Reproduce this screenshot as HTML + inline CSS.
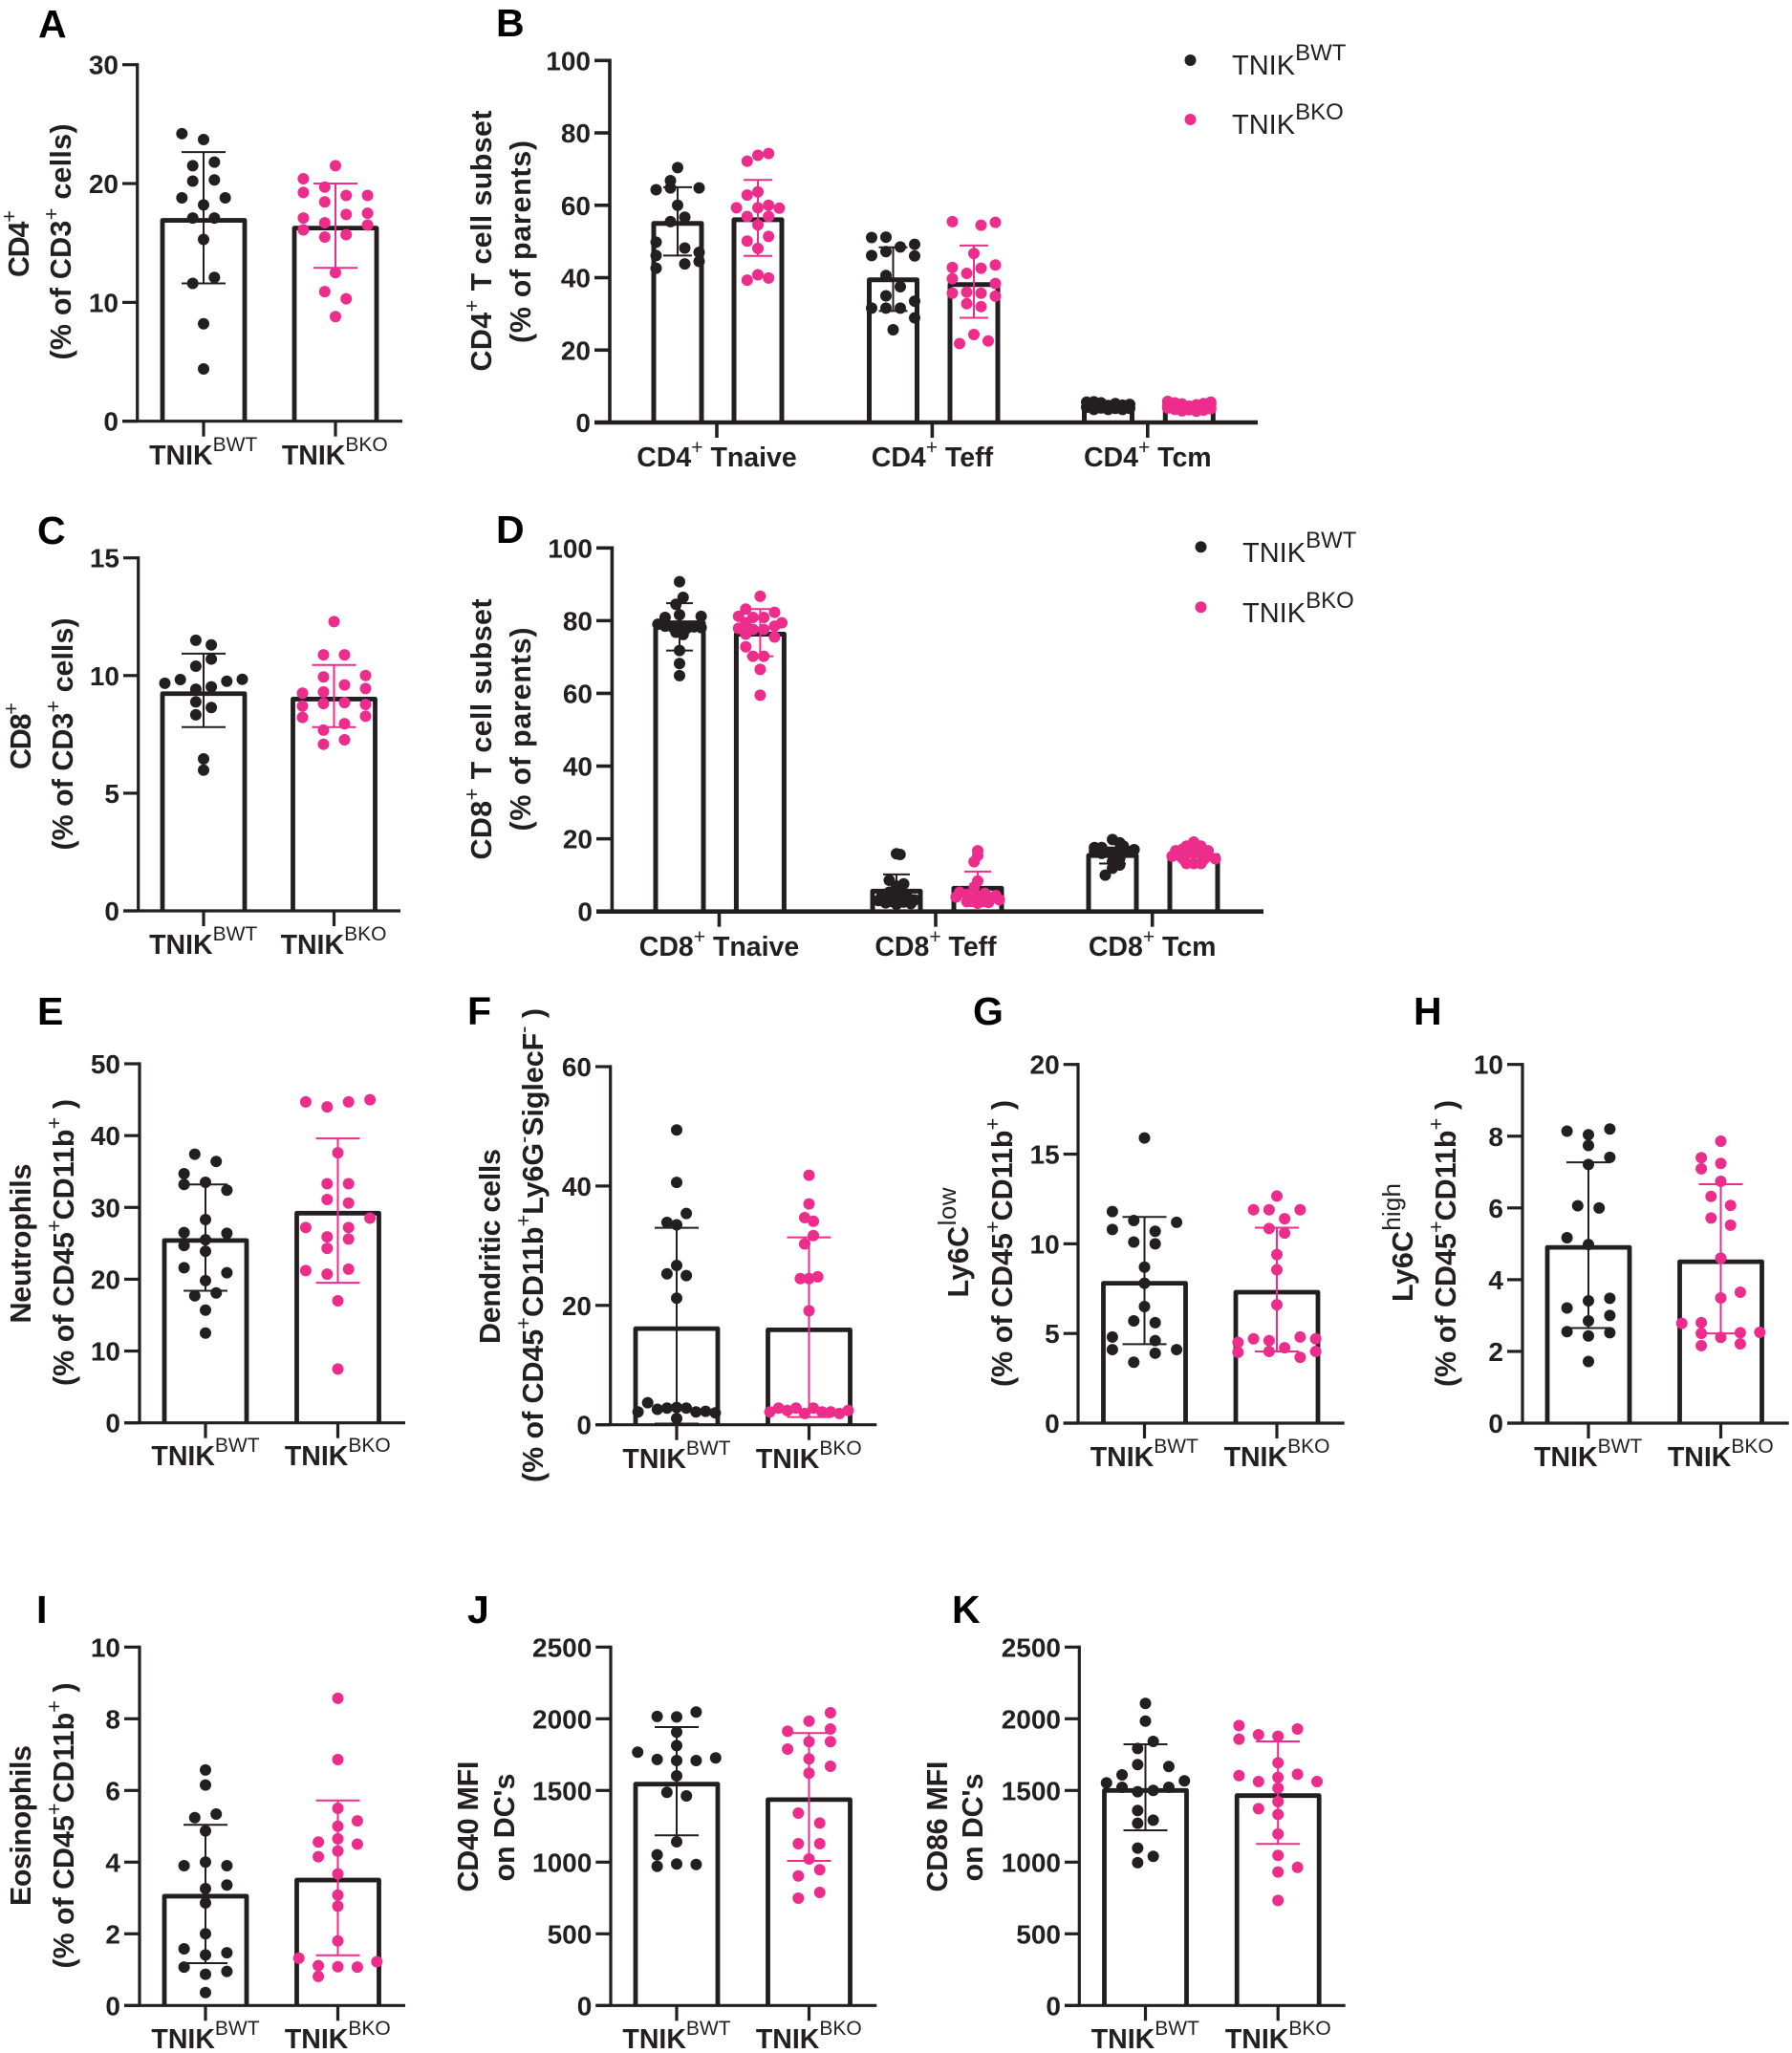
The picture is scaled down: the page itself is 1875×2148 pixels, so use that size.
<!DOCTYPE html>
<html lang="en">
<head>
<meta charset="utf-8">
<title>TNIK immune cell subset panels</title>
<style>
  html, body { margin: 0; padding: 0; background: #fff; }
  svg { display: block; }
  text { font-family: "Liberation Sans", Arial, sans-serif; fill: #231f20; }
  .letter { font-size: 41px; font-weight: 700; fill: #000; }
  .ytitle { font-size: 30.5px; font-weight: 700; text-anchor: middle; }
  .cat { font-size: 28.5px; font-weight: 700; text-anchor: middle; }
  .ytitle .sup { font-size: 22px; font-weight: 400; }
  .sup { font-size: 21px; font-weight: 400; }
  .legend { font-size: 29px; font-weight: 400; }
  .legend-sup { font-size: 24px; font-weight: 400; }
  .tick { font-size: 28px; font-weight: 700; text-anchor: end; }
</style>
</head>
<body>
<svg id="fig" xmlns="http://www.w3.org/2000/svg" width="1875" height="2148" viewBox="0 0 1875 2148">
  <rect width="1875" height="2148" fill="#fff"/>

  <!-- Panel letters -->
  <text class="letter" x="40" y="39">A</text>
  <text class="letter" x="519" y="38">B</text>
  <text class="letter" x="39" y="569">C</text>
  <text class="letter" x="519" y="568">D</text>
  <text class="letter" x="39" y="1072">E</text>
  <text class="letter" x="489" y="1072">F</text>
  <text class="letter" x="1018" y="1072">G</text>
  <text class="letter" x="1479" y="1072">H</text>
  <text class="letter" x="38" y="1698">I</text>
  <text class="letter" x="489" y="1698">J</text>
  <text class="letter" x="996" y="1698">K</text>

  <!-- Y axis titles -->
  <text class="ytitle" transform="translate(30,255) rotate(-90)" textLength="70">CD4<tspan class="sup" dy="-13">+</tspan></text>
  <text class="ytitle" transform="translate(74,253) rotate(-90)" textLength="247">(% of CD3<tspan class="sup" dy="-13">+</tspan><tspan dy="13"> cells)</tspan></text>

  <text class="ytitle" transform="translate(514,252) rotate(-90)" textLength="273">CD4<tspan class="sup" dy="-13">+</tspan><tspan dy="13"> T cell subset</tspan></text>
  <text class="ytitle" transform="translate(555,253) rotate(-90)" textLength="212">(% of parents)</text>

  <text class="ytitle" transform="translate(32,770) rotate(-90)" textLength="70">CD8<tspan class="sup" dy="-13">+</tspan></text>
  <text class="ytitle" transform="translate(76,768) rotate(-90)" textLength="243">(% of CD3<tspan class="sup" dy="-13">+</tspan><tspan dy="13"> cells)</tspan></text>

  <text class="ytitle" transform="translate(514,763) rotate(-90)" textLength="273">CD8<tspan class="sup" dy="-13">+</tspan><tspan dy="13"> T cell subset</tspan></text>
  <text class="ytitle" transform="translate(555,763) rotate(-90)" textLength="213">(% of parents)</text>

  <text class="ytitle" transform="translate(32,1301) rotate(-90)" textLength="167">Neutrophils</text>
  <text class="ytitle" transform="translate(77,1300) rotate(-90)" textLength="300">(% of CD45<tspan class="sup" dy="-13">+</tspan><tspan dy="13">CD11b</tspan><tspan class="sup" dy="-13">+</tspan><tspan dy="13"> )</tspan></text>

  <text class="ytitle" transform="translate(523,1304) rotate(-90)" textLength="204">Dendritic cells</text>
  <text class="ytitle" transform="translate(568,1303) rotate(-90)" textLength="496">(% of CD45<tspan class="sup" dy="-13">+</tspan><tspan dy="13">CD11b</tspan><tspan class="sup" dy="-13">+</tspan><tspan dy="13">Ly6G</tspan><tspan class="sup" dy="-13">-</tspan><tspan dy="13">SiglecF</tspan><tspan class="sup" dy="-13">-</tspan><tspan dy="13"> )</tspan></text>

  <text class="ytitle" transform="translate(1013,1300) rotate(-90)" textLength="115">Ly6C<tspan class="sup" style="font-size:26px" dy="-13">low</tspan></text>
  <text class="ytitle" transform="translate(1059,1301) rotate(-90)" textLength="300">(% of CD45<tspan class="sup" dy="-13">+</tspan><tspan dy="13">CD11b</tspan><tspan class="sup" dy="-13">+</tspan><tspan dy="13"> )</tspan></text>

  <text class="ytitle" transform="translate(1478,1300) rotate(-90)" textLength="124">Ly6C<tspan class="sup" style="font-size:26px" dy="-13">high</tspan></text>
  <text class="ytitle" transform="translate(1523,1301) rotate(-90)" textLength="300">(% of CD45<tspan class="sup" dy="-13">+</tspan><tspan dy="13">CD11b</tspan><tspan class="sup" dy="-13">+</tspan><tspan dy="13"> )</tspan></text>

  <text class="ytitle" transform="translate(32,1910) rotate(-90)" textLength="168">Eosinophils</text>
  <text class="ytitle" transform="translate(77,1910) rotate(-90)" textLength="299">(% of CD45<tspan class="sup" dy="-13">+</tspan><tspan dy="13">CD11b</tspan><tspan class="sup" dy="-13">+</tspan><tspan dy="13"> )</tspan></text>

  <text class="ytitle" transform="translate(500,1911) rotate(-90)" textLength="137">CD40 MFI</text>
  <text class="ytitle" transform="translate(538,1912) rotate(-90)" textLength="113">on DC's</text>

  <text class="ytitle" transform="translate(991,1911) rotate(-90)" textLength="137">CD86 MFI</text>
  <text class="ytitle" transform="translate(1028,1912) rotate(-90)" textLength="113">on DC's</text>

  <!-- Category labels -->
  <text class="cat" x="212.7" y="486">TNIK<tspan class="sup" dy="-14">BWT</tspan></text>
  <text class="cat" x="350.3" y="486">TNIK<tspan class="sup" dy="-14">BKO</tspan></text>
  <text class="cat" x="212.7" y="998">TNIK<tspan class="sup" dy="-14">BWT</tspan></text>
  <text class="cat" x="349" y="998">TNIK<tspan class="sup" dy="-14">BKO</tspan></text>
  <text class="cat" x="215" y="1533">TNIK<tspan class="sup" dy="-14">BWT</tspan></text>
  <text class="cat" x="353.3" y="1533">TNIK<tspan class="sup" dy="-14">BKO</tspan></text>
  <text class="cat" x="708" y="1536">TNIK<tspan class="sup" dy="-14">BWT</tspan></text>
  <text class="cat" x="846.3" y="1536">TNIK<tspan class="sup" dy="-14">BKO</tspan></text>
  <text class="cat" x="1197.3" y="1534">TNIK<tspan class="sup" dy="-14">BWT</tspan></text>
  <text class="cat" x="1336" y="1534">TNIK<tspan class="sup" dy="-14">BKO</tspan></text>
  <text class="cat" x="1661.7" y="1534">TNIK<tspan class="sup" dy="-14">BWT</tspan></text>
  <text class="cat" x="1800.3" y="1534">TNIK<tspan class="sup" dy="-14">BKO</tspan></text>
  <text class="cat" x="215" y="2143">TNIK<tspan class="sup" dy="-14">BWT</tspan></text>
  <text class="cat" x="353.3" y="2143">TNIK<tspan class="sup" dy="-14">BKO</tspan></text>
  <text class="cat" x="708" y="2143">TNIK<tspan class="sup" dy="-14">BWT</tspan></text>
  <text class="cat" x="846.3" y="2143">TNIK<tspan class="sup" dy="-14">BKO</tspan></text>
  <text class="cat" x="1198.3" y="2143">TNIK<tspan class="sup" dy="-14">BWT</tspan></text>
  <text class="cat" x="1337.3" y="2143">TNIK<tspan class="sup" dy="-14">BKO</tspan></text>

  <text class="cat" x="750" y="488">CD4<tspan class="sup" dy="-13">+</tspan><tspan dy="13"> Tnaive</tspan></text>
  <text class="cat" x="975.4" y="488">CD4<tspan class="sup" dy="-13">+</tspan><tspan dy="13"> Teff</tspan></text>
  <text class="cat" x="1200.8" y="488">CD4<tspan class="sup" dy="-13">+</tspan><tspan dy="13"> Tcm</tspan></text>
  <text class="cat" x="752.5" y="1000">CD8<tspan class="sup" dy="-13">+</tspan><tspan dy="13"> Tnaive</tspan></text>
  <text class="cat" x="979" y="1000">CD8<tspan class="sup" dy="-13">+</tspan><tspan dy="13"> Teff</tspan></text>
  <text class="cat" x="1205.7" y="1000">CD8<tspan class="sup" dy="-13">+</tspan><tspan dy="13"> Tcm</tspan></text>

  <!-- Legends -->
  <circle cx="1245.5" cy="63" r="6" fill="#231f20"/>
  <text class="legend" x="1289" y="78">TNIK<tspan class="legend-sup" dy="-15">BWT</tspan></text>
  <circle cx="1245.5" cy="125" r="6" fill="#ec2d8c"/>
  <text class="legend" x="1289" y="140">TNIK<tspan class="legend-sup" dy="-15">BKO</tspan></text>
  <circle cx="1256.5" cy="572.3" r="6" fill="#231f20"/>
  <text class="legend" x="1300" y="588">TNIK<tspan class="legend-sup" dy="-15">BWT</tspan></text>
  <circle cx="1256.5" cy="635.3" r="6" fill="#ec2d8c"/>
  <text class="legend" x="1300" y="651">TNIK<tspan class="legend-sup" dy="-15">BKO</tspan></text>
</svg>

<script>
/* ---------- Panel A ---------- */
const panelA_ticks = [0, 10, 20, 30];
const panelA_wtValues = [24.2, 23.7, 21.5, 21.8, 20.2, 20.3, 18.8, 18.8, 18.2, 17.1, 17.1, 15.3, 12.1, 11.6, 8.2, 4.4];
const panelA_wtSlots = [-2, 0, -1, 1, -1, 1, -2, 2, 0, -1, 1, 0, 1, -1, 0, 0];
const panelA_koValues = [21.5, 20.4, 19.25, 19.7, 19.0, 19.0, 18.45, 17.4, 17.5, 17.1, 16.7, 16.5, 16.1, 15.5, 15.7, 12.5, 10.9, 10.3, 8.8];
const panelA_koSlots = [0, -3, -3, -1, 1, 3, -1, 1, 3, -3, -1, 3, -3, -1, 1, 0, -1, 1, 0];
const panelA_means = [16.9, 16.25];
const panelA_errHigh = [22.65, 20.0];
const panelA_errLow = [11.6, 12.9];

/* ---------- Panel B ---------- */
const panelB_ticks = [0, 20, 40, 60, 80, 100];
const panelB_naiveWtValues = [70.4, 66.8, 64.3, 64.8, 64.8, 60.0, 56.7, 55.5, 49.8, 48.2, 47.0, 46.1, 44.5, 43.8, 42.6];
const panelB_naiveWtSlots = [0, -1, -3, -1, 3, 0, 1, -1, -3, 1, 3, -3, 3, 1, -3];
const panelB_naiveKoValues = [74.3, 73.8, 72.2, 63.7, 62.8, 59.3, 59.3, 60.0, 59.2, 56.9, 56.9, 54.6, 51.4, 50.1, 48.1, 40.8, 39.9, 39.3];
const panelB_naiveKoSlots = [1, 0, -1, 0, -1, -2, 0, 1, 2, -1, 1, 0, 1, -1, 0, 0, 1, -1];
const panelB_effWtValues = [51.1, 51.2, 49.2, 48.5, 47.2, 46.1, 46.0, 40.6, 37.5, 35.0, 33.5, 31.6, 31.6, 31.6, 28.9, 25.6];
const panelB_effWtSlots = [-3, -1, 3, 1, -1, -3, 3, -1, 1, -1, 3, -3, -1, 1, 3, 0];
const panelB_effKoValues = [55.5, 55.3, 54.5, 46.7, 43.5, 42.8, 42.6, 41.2, 39.7, 38.4, 35.7, 36.0, 35.7, 34.9, 32.8, 32.0, 24.3, 22.5, 21.8];
const panelB_effKoSlots = [-3, 3, 1, 0, 3, -3, 1, -1, -3, 3, -3, -1, 1, 3, -1, 1, 0, 2, -2];
const panelB_cmWtValues = [5.6, 5.7, 4.2, 3.6, 5.4, 4.0, 4.7, 3.6, 5.2, 3.9, 4.8, 3.6, 5.0, 3.9, 4.6, 3.8];
const panelB_cmWtSlots = [-3, -2, -3, -2, -1, -1, 0, 0, 1, 1, 2, 2, 3, 3, -2, 2];
const panelB_cmKoValues = [5.8, 5.6, 5.4, 5.2, 5.1, 5.0, 4.9, 4.6, 4.5, 4.3, 4.2, 4.0, 3.9, 3.8, 3.6, 3.5, 3.4, 3.2, 3.1];
const panelB_cmKoSlots = [-3, 3, -2, 2, -1, 3, 1, -3, 0, 2, -1, -3, 1, 3, -2, 0, 2, -1, 1];
const panelB_means = [55.0, 56.0, 39.4, 38.1, 4.5, 3.9];
const panelB_errHigh = [65.0, 67.0, 48.4, 48.9, 5.5, 5.0];
const panelB_errLow = [46.1, 46.0, 30.8, 28.9, 3.5, 3.0];

/* ---------- Panel C ---------- */
const panelC_ticks = [0, 5, 10, 15];
const panelC_wtValues = [11.5, 11.3, 10.7, 10.4, 9.67, 9.83, 9.76, 9.84, 9.42, 9.52, 8.88, 8.64, 8.33, 6.46, 5.98];
const panelC_wtSlots = [-1, 1, 1, -1, -5, -3, 3, 5, -1, 1, -1, 1, -1, 0, 0];
const panelC_koValues = [12.29, 10.88, 10.88, 10.0, 9.94, 9.6, 9.45, 9.25, 9.3, 8.81, 8.85, 8.7, 8.77, 8.22, 8.27, 7.95, 7.68, 7.27, 7.08];
const panelC_koSlots = [0, -1, 1, 3, -1, 1, 3, -3, -1, -1, 1, -3, 3, -3, 3, 1, -1, 1, -1];
const panelC_means = [9.23, 9.0];
const panelC_errHigh = [10.93, 10.45];
const panelC_errLow = [7.81, 7.81];

/* ---------- Panel D ---------- */
const panelD_ticks = [0, 20, 40, 60, 80, 100];
const panelD_naiveWtValues = [90.7, 86.4, 84.5, 80.9, 81.6, 81.2, 79.0, 78.5, 78.3, 77.6, 77.9, 78.3, 78.1, 76.8, 76.2, 71.8, 68.2, 64.9];
const panelD_naiveWtSlots = [0, 1, -1, -4, 0, 6, -6, -4, -2, 0, 2, 4, 6, -1, 1, 0, 0, 0];
const panelD_naiveKoValues = [86.7, 83.2, 82.3, 81.2, 80.9, 80.9, 79.4, 79.4, 77.9, 77.6, 77.6, 78.5, 76.3, 75.5, 72.8, 70.2, 70.2, 66.6, 59.5];
const panelD_naiveKoSlots = [0, -4, 4, -6, -2, 1, 6, -4, -6, -2, 1, 4, -4, 4, -4, -2, 1, 0, 0];
const panelD_effWtValues = [15.9, 15.7, 8.6, 7.6, 7.0, 5.3, 4.8, 4.5, 4.0, 3.6, 3.2, 3.0, 2.6, 2.4, 2.2, 2.0];
const panelD_effWtSlots = [0, 1, -2, 2, 0, -2, 1, -4, 3, -1, 5, -5, 2, -3, 4, 0];
const panelD_effKoValues = [16.7, 15.4, 13.7, 8.4, 6.7, 5.3, 5.0, 4.7, 4.4, 4.2, 4.0, 3.8, 3.5, 3.2, 3.0, 2.7, 2.5, 2.3];
const panelD_effKoSlots = [0, 0, -1, 0, -1, -5, 2, -3, 5, 0, -6, 4, -2, 6, 1, -3, 3, 0];
const panelD_cmWtValues = [19.8, 18.9, 18.0, 17.6, 17.6, 17.0, 16.6, 16.3, 16.3, 16.6, 16.0, 14.5, 13.7, 12.8, 11.9, 10.0];
const panelD_cmWtSlots = [0, 2, 3, -5, -3, 6, -5, -1, 1, 4, -3, 2, 0, 2, 0, -2];
const panelD_cmKoValues = [19.1, 18.0, 18.0, 16.7, 17.2, 17.6, 16.7, 15.2, 15.4, 15.9, 16.0, 15.9, 15.4, 14.5, 13.2, 13.2, 13.2, 14.5, 14.5];
const panelD_cmKoSlots = [0, -2, 2, -5, -3, 0, 4, -6, -4, -2, 0, 2, 4, 6, -2, 0, 2, 3, -3];
const panelD_means = [79.4, 76.3, 5.6, 6.4, 15.4, 15.4];
const panelD_errHigh = [84.8, 83.2, 10.2, 11.0, 17.6, 17.6];
const panelD_errLow = [71.8, 70.2, 1.5, 1.5, 13.2, 13.2];

/* ---------- Panel E ---------- */
const panelE_ticks = [0, 10, 20, 30, 40, 50];
const panelE_wtValues = [37.4, 36.4, 34.7, 33.2, 33.5, 32.4, 28.3, 26.5, 26.4, 25.5, 24.7, 23.9, 21.6, 20.9, 19.8, 17.7, 18.1, 15.7, 12.5];
const panelE_wtSlots = [-1, 1, -2, -2, 0, 2, 0, -2, 2, 0, -2, 0, -2, 2, 0, -1, 1, 0, 0];
const panelE_koValues = [44.7, 44.0, 44.7, 45.0, 37.6, 33.3, 33.3, 31.1, 30.6, 28.5, 27.2, 27.2, 25.9, 25.6, 24.3, 21.2, 20.7, 21.4, 17.0, 7.5];
const panelE_koSlots = [-3, -1, 1, 3, 0, -1, 1, -1, 1, 3, -3, 1, -1, 1, -1, -3, -1, 1, 0, 0];
const panelE_means = [25.4, 29.2];
const panelE_errHigh = [33.2, 39.6];
const panelE_errLow = [18.4, 19.5];

/* ---------- Panel F ---------- */
const panelF_ticks = [0, 20, 40, 60];
const panelF_wtValues = [49.4, 40.6, 35.4, 33.9, 33.5, 26.7, 25.3, 25.0, 21.2, 3.7, 2.6, 2.8, 2.9, 2.8, 2.15, 2.26, 2.0, 2.15, 1.05];
const panelF_wtSlots = [0, 0, 1, -1, 0, 0, -1, 1, 0, -3, -2, -1, 0, 1, 2, 3, 4, -4, 0];
const panelF_koValues = [41.8, 37.0, 34.7, 34.1, 31.7, 30.3, 24.5, 24.5, 24.8, 19.1, 2.15, 2.8, 2.4, 2.8, 1.9, 2.8, 2.15, 2.15, 1.9, 2.4];
const panelF_koSlots = [0, 0, -1, 1, 1, -1, -2, 0, 2, 0, -9, -7, -5, -3, -1, 1, 3, 5, 7, 9];
const panelF_means = [16.1, 15.9];
const panelF_errHigh = [33.0, 31.4];
const panelF_errLow = [0.2, 1.3];

/* ---------- Panel G ---------- */
const panelG_ticks = [0, 5, 10, 15, 20];
const panelG_wtValues = [15.9, 11.8, 11.3, 11.2, 10.8, 10.7, 10.1, 10.0, 8.7, 7.8, 6.5, 5.7, 5.6, 4.8, 4.6, 4.1, 4.1, 3.9, 3.4];
const panelG_wtSlots = [0, -3, -1, 3, -3, 1, -1, 1, 0, 0, 0, -1, 1, -3, 1, -3, 3, 1, -1];
const panelG_koValues = [12.66, 11.9, 11.9, 11.9, 11.4, 10.85, 10.6, 9.4, 8.55, 6.6, 4.7, 4.6, 4.8, 4.7, 4.5, 3.95, 4.0, 4.2, 4.0, 3.67];
const panelG_koSlots = [0, -3, -1, 3, 1, -1, 1, 0, 0, 0, -3, -1, 3, 5, -5, -5, -1, 1, 5, 3];
const panelG_means = [7.8, 7.3];
const panelG_errHigh = [11.5, 10.9];
const panelG_errLow = [4.4, 4.0];

/* ---------- Panel H ---------- */
const panelH_ticks = [0, 2, 4, 6, 8, 10];
const panelH_wtValues = [8.14, 8.2, 8.04, 7.74, 7.41, 7.21, 6.06, 6.0, 5.17, 4.98, 3.48, 3.41, 3.21, 3.0, 2.85, 2.55, 2.52, 2.43, 1.72];
const panelH_wtSlots = [-2, 2, 0, 0, 2, 0, -1, 1, -2, 0, 2, 0, -2, 2, 0, -2, 2, 0, 0];
const panelH_koValues = [7.86, 7.4, 7.09, 7.24, 6.74, 6.32, 6.07, 5.72, 5.52, 4.6, 3.65, 3.49, 2.78, 2.8, 2.5, 2.52, 2.53, 2.39, 2.16, 2.21];
const panelH_koSlots = [0, -2, -2, 0, 0, -1, 1, -1, 1, 0, 2, 0, -4, -2, -2, 2, 4, 0, -2, 2];
const panelH_means = [4.9, 4.5];
const panelH_errHigh = [7.27, 6.66];
const panelH_errLow = [2.65, 2.5];

/* ---------- Panel I ---------- */
const panelI_ticks = [0, 2, 4, 6, 8, 10];
const panelI_wtValues = [6.57, 6.15, 5.24, 5.34, 4.87, 3.9, 4.0, 3.9, 3.36, 3.26, 2.86, 2.0, 1.58, 1.47, 1.41, 1.07, 0.95, 0.87, 0.36];
const panelI_wtSlots = [0, 0, -1, 1, 0, -2, 0, 2, 2, 0, 0, 0, -2, 2, 0, -2, 2, 0, 0];
const panelI_koValues = [8.57, 6.86, 5.5, 5.15, 5.0, 4.65, 4.56, 4.5, 4.31, 4.15, 3.67, 3.08, 2.77, 1.8, 1.32, 1.22, 1.11, 1.08, 1.07, 0.81];
const panelI_koSlots = [0, 0, 0, 2, 0, 0, -2, 2, 0, -2, 0, 0, 0, 0, -4, 4, -2, 0, 2, -2];
const panelI_means = [3.05, 3.5];
const panelI_errHigh = [5.04, 5.72];
const panelI_errLow = [1.18, 1.4];

/* ---------- Panel J ---------- */
const panelJ_ticks = [0, 500, 1000, 1500, 2000, 2500];
const panelJ_wtValues = [2047, 2016, 2013, 1907, 1813, 1767, 1727, 1716, 1709, 1709, 1602, 1487, 1462, 1142, 1051, 971, 987, 984];
const panelJ_wtSlots = [2, -2, 0, 0, 0, -4, 4, -2, 0, 2, 0, -1, 1, 0, -2, -2, 0, 2];
const panelJ_koValues = [2042, 1984, 1929, 1913, 1840, 1840, 1789, 1720, 1669, 1620, 1342, 1273, 1129, 1129, 1022, 947, 904, 789, 749];
const panelJ_koSlots = [2, 0, 2, -2, 0, 2, -2, 0, 2, 0, -1, 1, -1, 1, 0, 1, -1, 1, -1];
const panelJ_means = [1544, 1436];
const panelJ_errHigh = [1942, 1900];
const panelJ_errLow = [1187, 1009];

/* ---------- Panel K ---------- */
const panelK_ticks = [0, 500, 1000, 1500, 2000, 2500];
const panelK_wtValues = [2107, 1984, 1842, 1793, 1680, 1667, 1609, 1553, 1567, 1522, 1522, 1491, 1500, 1360, 1293, 1271, 1098, 1040, 996];
const panelK_wtSlots = [0, 0, 1, -1, -1, 3, -3, -5, 5, -3, 3, -1, 1, -1, 1, -1, -1, 1, -1];
const panelK_koValues = [1953, 1929, 1858, 1889, 1878, 1693, 1604, 1613, 1591, 1562, 1562, 1516, 1422, 1373, 1333, 1196, 1047, 964, 931, 733];
const panelK_koSlots = [-4, 2, -4, -2, 0, 0, -4, 2, 0, -2, 4, 0, 0, -2, 0, 0, 0, 2, 0, 0];
const panelK_means = [1500, 1464];
const panelK_errHigh = [1822, 1842];
const panelK_errLow = [1222, 1127];

/* ---------- Drawing ---------- */
const DARK = '#231f20';
const PINK = '#ec2d8c';
const svgNS = 'http://www.w3.org/2000/svg';
const fig = document.getElementById('fig');

function make(tag, attrs, parent) {
  const el = document.createElementNS(svgNS, tag);
  for (const k in attrs) el.setAttribute(k, attrs[k]);
  parent.appendChild(el);
  return el;
}

function drawPanel(cfg) {
  const ticks = cfg.ticks;
  const yMax = ticks[ticks.length - 1];
  const yScale = v => cfg.y0 - (v / yMax) * (cfg.y0 - cfg.yTop);
  const g = make('g', {}, fig);
  
  

  cfg.series.forEach((s, i) => {
    const color = s.ko ? PINK : DARK;
    const tag = cfg.id + '-' + s.name;
    const left = s.cx - cfg.barHalf;
    const right = s.cx + cfg.barHalf;
    const yBar = yScale(cfg.means[i]);

    const bar = make('path', {
      d: 'M' + left + ' ' + cfg.y0 + 'V' + yBar + 'H' + right + 'V' + cfg.y0,
      fill: 'none', stroke: DARK, 'stroke-width': cfg.barStroke, 'stroke-linejoin': 'round'
    }, g);
    
    

    const yHi = yScale(cfg.errHigh[i]);
    const yLo = yScale(cfg.errLow[i]);
    const err = make('path', {
      d: 'M' + s.cx + ' ' + yHi + 'V' + yLo +
         'M' + (s.cx - cfg.capHalf) + ' ' + yHi + 'H' + (s.cx + cfg.capHalf) +
         'M' + (s.cx - cfg.capHalf) + ' ' + yLo + 'H' + (s.cx + cfg.capHalf),
      fill: 'none', stroke: color, 'stroke-width': cfg.errStroke
    }, g);
    
    

    s.values.forEach((v, j) => {
      const dot = make('circle', {
        cx: s.cx + s.slots[j] * s.step,
        cy: yScale(v),
        r: 6,
        fill: color
      }, g);
      
      
    });
  });

  const yAxis = make('line', {
    x1: cfg.axisX, x2: cfg.axisX, y1: cfg.yTop - cfg.axisStroke / 2, y2: cfg.y0,
    stroke: DARK, 'stroke-width': cfg.axisStroke
  }, g);
  
  

  const xAxis = make('line', {
    x1: cfg.xStart, x2: cfg.xEnd, y1: cfg.y0, y2: cfg.y0,
    stroke: DARK, 'stroke-width': cfg.xAxisStroke
  }, g);
  
  

  ticks.forEach(t => {
    const y = yScale(t);
    const mark = make('line', {
      x1: cfg.xStart, x2: cfg.axisX, y1: y, y2: y,
      stroke: DARK, 'stroke-width': cfg.axisStroke
    }, g);
    
    

    const label = make('text', { class: 'tick', x: cfg.xStart - 4, y: y + 10 }, g);
    label.textContent = String(t);
    
    
  });

  cfg.xTicks.forEach(x => {
    const mark = make('line', {
      x1: x, x2: x, y1: cfg.y0, y2: cfg.y0 + 16,
      stroke: DARK, 'stroke-width': cfg.axisStroke
    }, g);
    
    
  });
}

function smallPanel(id, ax, c1, c2, yTop, y0, xStart, xEnd, ticks, d, steps) {
  drawPanel({
    id: id, yTop: yTop, y0: y0, axisX: ax, xStart: xStart, xEnd: xEnd, ticks: ticks,
    barHalf: 43, barStroke: 4.8, capHalf: 23, errStroke: 2, axisStroke: 3.2, xAxisStroke: 3.2,
    means: d.means, errHigh: d.errHigh, errLow: d.errLow, xTicks: [c1, c2],
    series: [
      { name: 'wt', ko: false, cx: c1, step: steps[0], values: d.wv, slots: d.ws },
      { name: 'ko', ko: true, cx: c2, step: steps[1], values: d.kv, slots: d.ks }
    ]
  });
}

smallPanel('a', 143.7, 213, 351, 67.7, 440.7, 128, 421, panelA_ticks,
  { means: panelA_means, errHigh: panelA_errHigh, errLow: panelA_errLow, wv: panelA_wtValues, ws: panelA_wtSlots, kv: panelA_koValues, ks: panelA_koSlots }, [11.33, 11.2]);
smallPanel('c', 144.7, 213, 349.5, 583.7, 953, 129, 419, panelC_ticks,
  { means: panelC_means, errHigh: panelC_errHigh, errLow: panelC_errLow, wv: panelC_wtValues, ws: panelC_wtSlots, kv: panelC_koValues, ks: panelC_koSlots }, [8.1, 11]);
smallPanel('e', 146, 215, 353.5, 1113, 1488.7, 130, 424, panelE_ticks,
  { means: panelE_means, errHigh: panelE_errHigh, errLow: panelE_errLow, wv: panelE_wtValues, ws: panelE_wtSlots, kv: panelE_koValues, ks: panelE_koSlots }, [11.2, 11.2]);
smallPanel('f', 638.7, 708, 846.5, 1116, 1490.7, 623, 917.3, panelF_ticks,
  { means: panelF_means, errHigh: panelF_errHigh, errLow: panelF_errLow, wv: panelF_wtValues, ws: panelF_wtSlots, kv: panelF_koValues, ks: panelF_koSlots }, [10.1, 4.55]);
smallPanel('g', 1128, 1197.5, 1336, 1113.7, 1489, 1112.7, 1406.7, panelG_ticks,
  { means: panelG_means, errHigh: panelG_errHigh, errLow: panelG_errLow, wv: panelG_wtValues, ws: panelG_wtSlots, kv: panelG_koValues, ks: panelG_koSlots }, [11.2, 8.13]);
smallPanel('h', 1593, 1662, 1800.5, 1113.7, 1489, 1577, 1871.7, panelH_ticks,
  { means: panelH_means, errHigh: panelH_errHigh, errLow: panelH_errLow, wv: panelH_wtValues, ws: panelH_wtSlots, kv: panelH_koValues, ks: panelH_koSlots }, [11.2, 10.2]);
smallPanel('i', 146, 215, 353.5, 1723.3, 2098.3, 130, 424, panelI_ticks,
  { means: panelI_means, errHigh: panelI_errHigh, errLow: panelI_errLow, wv: panelI_wtValues, ws: panelI_wtSlots, kv: panelI_koValues, ks: panelI_koSlots }, [11.2, 10.2]);
smallPanel('j', 639, 708, 846.5, 1723.3, 2098.3, 623.3, 917.3, panelJ_ticks,
  { means: panelJ_means, errHigh: panelJ_errHigh, errLow: panelJ_errLow, wv: panelJ_wtValues, ws: panelJ_wtSlots, kv: panelJ_koValues, ks: panelJ_koSlots }, [10.2, 11.2]);
smallPanel('k', 1129.3, 1198.5, 1337.2, 1723.3, 2098.3, 1114, 1407.7, panelK_ticks,
  { means: panelK_means, errHigh: panelK_errHigh, errLow: panelK_errLow, wv: panelK_wtValues, ws: panelK_wtSlots, kv: panelK_koValues, ks: panelK_koSlots }, [8.15, 10.2]);

drawPanel({
  id: 'b', yTop: 63.3, y0: 442, axisX: 638, xStart: 622, xEnd: 1316, ticks: panelB_ticks,
  barHalf: 25, barStroke: 5, capHalf: 15, errStroke: 2, axisStroke: 3.6, xAxisStroke: 4.6,
  means: panelB_means, errHigh: panelB_errHigh, errLow: panelB_errLow,
  xTicks: [750, 975.4, 1200.8],
  series: [
    { name: 'tnaive-wt', ko: false, cx: 709, step: 7.5, values: panelB_naiveWtValues, slots: panelB_naiveWtSlots },
    { name: 'tnaive-ko', ko: true, cx: 793, step: 11.2, values: panelB_naiveKoValues, slots: panelB_naiveKoSlots },
    { name: 'teff-wt', ko: false, cx: 934.5, step: 7.5, values: panelB_effWtValues, slots: panelB_effWtSlots },
    { name: 'teff-ko', ko: true, cx: 1019, step: 7.5, values: panelB_effKoValues, slots: panelB_effKoSlots },
    { name: 'tcm-wt', ko: false, cx: 1159.5, step: 7.5, values: panelB_cmWtValues, slots: panelB_cmWtSlots },
    { name: 'tcm-ko', ko: true, cx: 1244.3, step: 7.5, values: panelB_cmKoValues, slots: panelB_cmKoSlots }
  ]
});

drawPanel({
  id: 'd', yTop: 573.3, y0: 953.7, axisX: 640.4, xStart: 624, xEnd: 1322, ticks: panelD_ticks,
  barHalf: 25, barStroke: 5, capHalf: 14, errStroke: 2, axisStroke: 3.6, xAxisStroke: 4.6,
  means: panelD_means, errHigh: panelD_errHigh, errLow: panelD_errLow,
  xTicks: [752.5, 979, 1205.7],
  series: [
    { name: 'tnaive-wt', ko: false, cx: 711, step: 3.77, values: panelD_naiveWtValues, slots: panelD_naiveWtSlots },
    { name: 'tnaive-ko', ko: true, cx: 795.4, step: 3.77, values: panelD_naiveKoValues, slots: panelD_naiveKoSlots },
    { name: 'teff-wt', ko: false, cx: 938, step: 3.77, values: panelD_effWtValues, slots: panelD_effWtSlots },
    { name: 'teff-ko', ko: true, cx: 1023, step: 3.77, values: panelD_effKoValues, slots: panelD_effKoSlots },
    { name: 'tcm-wt', ko: false, cx: 1164, step: 3.77, values: panelD_cmWtValues, slots: panelD_cmWtSlots },
    { name: 'tcm-ko', ko: true, cx: 1249, step: 3.77, values: panelD_cmKoValues, slots: panelD_cmKoSlots }
  ]
});
</script>
</body>
</html>
